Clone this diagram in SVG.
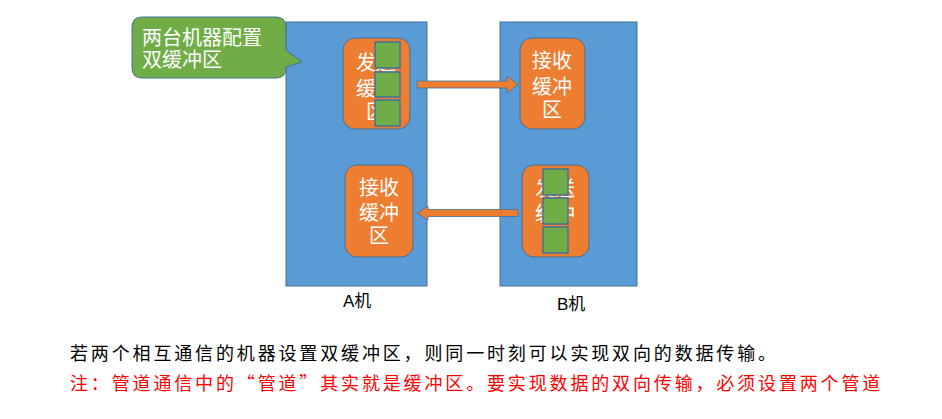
<svg xmlns="http://www.w3.org/2000/svg" width="942" height="419" viewBox="0 0 942 419">
<style>
.mach{fill:#5B9BD5;stroke:#41719C;stroke-width:1}
.buf{fill:#ED7D31;stroke:#41719C;stroke-width:1}
.sq{fill:#70AD47;stroke:#41719C;stroke-width:1.5}
.arr{fill:#ED7D31;stroke:#41719C;stroke-width:0.8}
.wt{font-family:"Noto Sans CJK SC","Liberation Sans",sans-serif;font-size:20px;fill:#FFFFFF;text-anchor:middle}
.lbl{font-family:"Liberation Sans","Noto Sans CJK SC",sans-serif;font-size:17px;fill:#000000}
.cap{font-family:"Noto Sans CJK SC","Liberation Serif",serif;font-size:18px;letter-spacing:2.85px}
</style>
<rect width="942" height="419" fill="#FFFFFF"/>
<g id="machineA">
<rect class="mach" x="286" y="22" width="141" height="264"/>
<text class="lbl" x="343" y="307">A机</text>
</g>
<g id="machineB">
<rect class="mach" x="500" y="22" width="137" height="264"/>
<text class="lbl" x="557" y="310">B机</text>
</g>
<g id="callout">
<path d="M142,17 H276 Q286,17 286,27 V50 L302,62 L286,67 V68 Q286,78 276,78 H142 Q132,78 132,68 V27 Q132,17 142,17 Z" fill="#70AD47" stroke="#41719C" stroke-width="1"/>
<text class="wt" style="text-anchor:start"><tspan x="142" y="45">两台机器配置</tspan><tspan x="142" y="67">双缓冲区</tspan></text>
</g>
<g id="sendA">
<rect class="buf" x="343" y="38" width="67" height="91" rx="12"/>
<text class="wt"><tspan x="376" y="70">发送</tspan><tspan x="376" y="96">缓冲</tspan><tspan x="376" y="119">区</tspan></text>
<rect class="sq" x="375" y="42" width="25" height="26"/>
<rect class="sq" x="375" y="72" width="25" height="25"/>
<rect class="sq" x="375" y="100" width="25" height="26"/>
</g>
<g id="recvB">
<rect class="buf" x="520" y="38" width="65" height="91" rx="12"/>
<text class="wt"><tspan x="552" y="68">接收</tspan><tspan x="552" y="94">缓冲</tspan><tspan x="552" y="117">区</tspan></text>
</g>
<g id="recvA">
<rect class="buf" x="345" y="165" width="68" height="92" rx="12"/>
<text class="wt"><tspan x="379" y="195">接收</tspan><tspan x="379" y="220">缓冲</tspan><tspan x="379" y="243">区</tspan></text>
</g>
<g id="sendB">
<rect class="buf" x="522" y="165" width="67" height="92" rx="12"/>
<text class="wt"><tspan x="555" y="196">发送</tspan><tspan x="555" y="221">缓冲</tspan><tspan x="555" y="244">区</tspan></text>
<rect class="sq" x="543" y="169" width="25" height="26"/>
<rect class="sq" x="543" y="198" width="25" height="26"/>
<rect class="sq" x="543" y="227" width="25" height="26"/>
</g>
<g id="connectors">
<path class="arr" d="M417,81 H507 V76 L518,84.5 L507,93 V88 H417 Z"/>
<path class="arr" d="M518,209.5 H428 V206 L417,213 L428,220 V216.5 H518 Z"/>
</g>
<g id="captions">
<text class="cap" x="70" y="360" fill="#000000">若两个相互通信的机器设置双缓冲区，则同一时刻可以实现双向的数据传输。</text>
<text class="cap" x="70" y="390" fill="#FF0000">注：管道通信中的“管道”其实就是缓冲区。要实现数据的双向传输，必须设置两个管道</text>
</g>
</svg>
